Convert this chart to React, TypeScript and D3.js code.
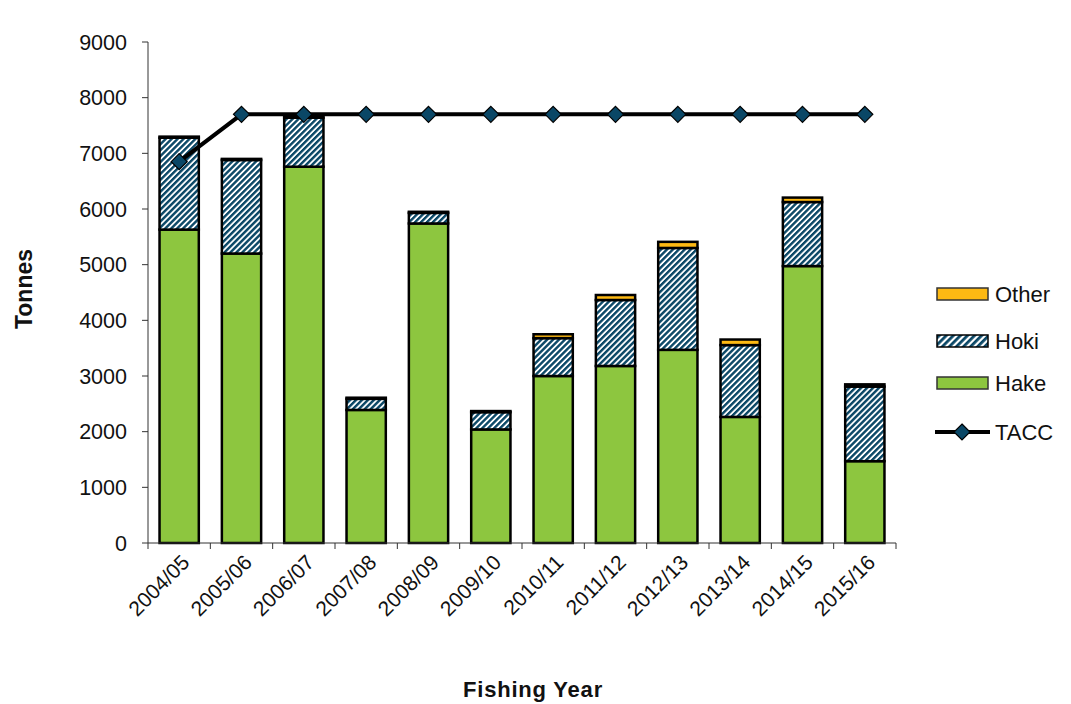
import React from "react";
import * as d3 from "d3";

const years = ["2004/05","2005/06","2006/07","2007/08","2008/09","2009/10","2010/11","2011/12","2012/13","2013/14","2014/15","2015/16"];
const hake = [5630, 5200, 6760, 2390, 5740, 2040, 3000, 3180, 3470, 2265, 4975, 1470];
const hoki = [1650, 1680, 880, 200, 190, 310, 680, 1185, 1830, 1290, 1150, 1340];
const other = [20, 20, 20, 20, 20, 20, 70, 90, 110, 100, 80, 40];
const tacc = [6850, 7700, 7700, 7700, 7700, 7700, 7700, 7700, 7700, 7700, 7700, 7700];
const yTicks = [0, 1000, 2000, 3000, 4000, 5000, 6000, 7000, 8000, 9000];
const legendItems = ["Other", "Hoki", "Hake", "TACC"];

const W = 1071, H = 704;
const X0 = 148, X1 = 896, Y0 = 543, Y1 = 42;
const GREEN = "#8dc63f", NAVY = "#0a4766", ORANGE = "#fdb913";
const FONT = "'Liberation Sans', Arial, sans-serif";

export default function App() {
  const x = d3.scaleBand<string>().domain(years).range([X0, X1]).paddingInner(0.37).paddingOuter(0.185);
  const band = d3.scaleBand<string>().domain(years).range([X0, X1]);
  const y = d3.scaleLinear().domain([0, 9000]).range([Y0, Y1]);
  const stack = d3.stack<number>().keys(["hake", "hoki", "other"] as any).value((i: any, k: any) => (k === "hake" ? hake[i] : k === "hoki" ? hoki[i] : other[i]));
  const series = stack(years.map((_, i) => i) as any);
  const fills = [GREEN, "url(#hatch)", ORANGE];
  const line = d3.line<number>().x((_, i) => band(years[i])! + band.bandwidth() / 2).y((d) => y(d));
  const diamondPath = "M0,-8L8,0L0,8L-8,0Z";
  const boundaries = [...years.map((yr) => band(yr)!), X1];

  const legY = [294, 341, 383, 432];
  return (
    <svg width={W} height={H} style={{ position: "absolute", left: 0, top: 0, background: "#fff" }} fontFamily={FONT}>
      <defs>
        <pattern id="hatch" patternUnits="userSpaceOnUse" width="4.2" height="4.2" patternTransform="rotate(45)">
          <rect width="4.2" height="4.2" fill="#fff" />
          <rect width="2.4" height="4.2" fill={NAVY} />
        </pattern>
        <pattern id="hatchLeg" patternUnits="userSpaceOnUse" width="5" height="5" patternTransform="rotate(45)">
          <rect width="5" height="5" fill="#fff" />
          <rect width="2.8" height="5" fill={NAVY} />
        </pattern>
      </defs>
      {/* bars */}
      {series.map((s, si) =>
        s.map((d, i) => {
          const h = y(d[0]) - y(d[1]);
          return (
            <rect key={si + "-" + i} x={x(years[i])} y={y(d[1])} width={x.bandwidth()} height={h}
              fill={fills[si]} stroke="#000" strokeWidth={2.5} />
          );
        })
      )}
      {/* axes */}
      <line x1={X0} x2={X0} y1={Y1} y2={Y0} stroke="#333" strokeWidth={1} />
      <line x1={X0} x2={X1} y1={Y0} y2={Y0} stroke="#333" strokeWidth={1} />
      {yTicks.map((t) => (
        <g key={t}>
          <line x1={X0 - 6} x2={X0} y1={y(t)} y2={y(t)} stroke="#333" />
          <text x={127} y={y(t)} dy="0.35em" textAnchor="end" fontSize={21.5} fill="#111">{t}</text>
        </g>
      ))}
      {boundaries.map((bx, i) => (
        <line key={i} x1={bx} x2={bx} y1={Y0} y2={Y0 + 6} stroke="#333" />
      ))}
      {years.map((yr) => {
        const cx = band(yr)! + band.bandwidth() / 2 + 1;
        return (
          <text key={yr} transform={`translate(${cx},${Y0 + 10}) rotate(-45)`} textAnchor="end" dy="0.72em" fontSize={21} fill="#111">{yr}</text>
        );
      })}
      {/* TACC line */}
      <path d={line(tacc)!} fill="none" stroke="#000" strokeWidth={4} />
      {tacc.map((v, i) => (
        <path key={i} d={diamondPath} transform={`translate(${band(years[i])! + band.bandwidth() / 2},${y(v)})`} fill={NAVY} stroke="#000" strokeWidth={1.2} />
      ))}
      {/* titles */}
      <text x={533} y={697} textAnchor="middle" fontSize={22} letterSpacing={0.8} fontWeight="bold" fill="#111">Fishing Year</text>
      <text transform="translate(32,289) rotate(-90)" textAnchor="middle" fontSize={23} fontWeight="bold" fill="#111">Tonnes</text>
      {/* legend */}
      <rect x={937} y={legY[0] - 6} width={51} height={12} fill={ORANGE} stroke="#333" strokeWidth={1.5} />
      <rect x={937} y={legY[1] - 6} width={51} height={12} fill="url(#hatchLeg)" stroke="#000" strokeWidth={1.5} />
      <rect x={937} y={legY[2] - 6} width={51} height={12} fill={GREEN} stroke="#333" strokeWidth={1.5} />
      <line x1={935} x2={990} y1={legY[3]} y2={legY[3]} stroke="#000" strokeWidth={4} />
      <path d={diamondPath} transform={`translate(962,${legY[3]})`} fill={NAVY} stroke="#000" strokeWidth={1.2} />
      {legendItems.map((l, i) => (
        <text key={l} x={995} y={legY[i]} dy="0.35em" fontSize={22} fill="#111">{l}</text>
      ))}
    </svg>
  );
}
